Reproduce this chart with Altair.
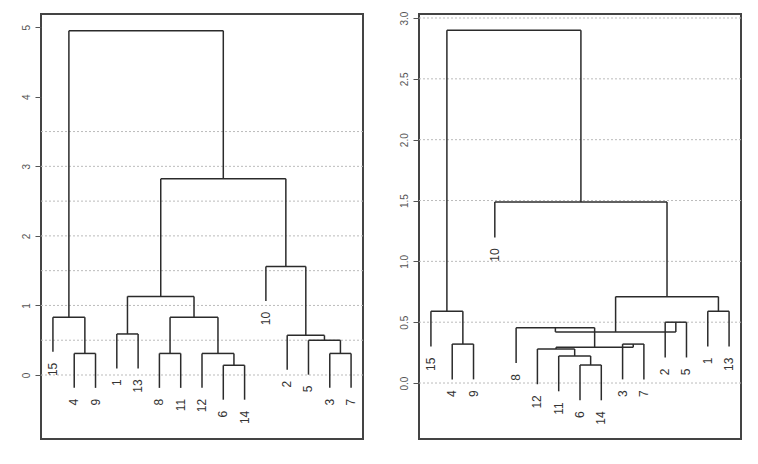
import altair as alt
import pandas as pd

# ---- data: hclust-style merge tables (negative = leaf, positive = earlier merge)
LEFT_ORDER = [15, 4, 9, 1, 13, 8, 11, 12, 6, 14, 10, 2, 5, 3, 7]
LEFT_A = [-4, -15, -1, -8, -6, -12, 4, 3, -3, -5, -2, -10, 8, 2]
LEFT_B = [-9, 1, -13, -11, -14, 5, 6, 7, -7, 9, 10, 11, 12, 13]
LEFT_H = [0.31, 0.83, 0.59, 0.31, 0.14, 0.31, 0.83, 1.13, 0.31, 0.50, 0.57, 1.56, 2.82, 4.95]
LEFT_TICKS = [0, 1, 2, 3, 4, 5]
LEFT_GRID = [0, 0.5, 1.0, 1.5, 2.0, 2.5, 3.0, 3.5]

RIGHT_ORDER = [15, 4, 9, 10, 8, 12, 11, 6, 14, 3, 7, 2, 5, 1, 13]
RIGHT_A = [-4, -15, -6, -11, -12, -3, 5, -8, -2, 8, -1, 10, -10, 2]
RIGHT_B = [-9, 1, -14, 3, 4, -7, 6, 7, -5, 9, -13, 11, 12, 13]
RIGHT_H = [0.32, 0.59, 0.148, 0.222, 0.28, 0.32, 0.295, 0.455, 0.50, 0.42, 0.59, 0.71, 1.487, 2.90]
RIGHT_TICKS = [0.0, 0.5, 1.0, 1.5, 2.0, 2.5, 3.0]
RIGHT_GRID = [0.0, 0.5, 1.0, 1.5, 2.0, 2.5, 3.0]


def dendro(order, A, B, H):
    pos = {leaf: i + 1 for i, leaf in enumerate(order)}
    hang = 0.1 * max(H)
    node_x, node_h = {}, {}
    segs, leaves = [], []
    for k, (a, b, h) in enumerate(zip(A, B, H), start=1):
        xs = []
        for c in (a, b):
            if c < 0:
                x = pos[-c]
                y = h - hang
                leaves.append({"label": str(-c), "x": x, "y": y})
            else:
                x = node_x[c]
                y = node_h[c]
            segs.append({"x": x, "x2": x, "y": h, "y2": y})
            xs.append(x)
        segs.append({"x": xs[0], "x2": xs[1], "y": h, "y2": h})
        node_x[k] = sum(xs) / 2
        node_h[k] = h
    return pd.DataFrame(segs), pd.DataFrame(leaves)


def panel(order, A, B, H, ticks, grid, ydom, fmt):
    segs, leaves = dendro(order, A, B, H)
    xsc = alt.Scale(domain=[0.44, 15.56], nice=False, zero=False)
    ysc = alt.Scale(domain=ydom, nice=False, zero=False)
    ax = alt.Axis(values=ticks, format=fmt, title=None, grid=False, domain=False,
                  labelAngle=270, labelAlign="center", labelBaseline="bottom",
                  labelPadding=4, tickSize=6, tickColor="#555", labelColor="#555",
                  labelFontSize=10, labelFont="Liberation Sans")
    g = alt.Chart(pd.DataFrame({"g": grid})).mark_rule(
        color="#bbbbbb", strokeDash=[2, 2], strokeWidth=1
    ).encode(y=alt.Y("g:Q", scale=ysc, axis=ax))
    r = alt.Chart(segs).mark_rule(color="#2b2b2b", strokeWidth=1.5).encode(
        x=alt.X("x:Q", scale=xsc, axis=None), x2="x2:Q",
        y=alt.Y("y:Q", scale=ysc, axis=ax), y2="y2:Q")
    t = alt.Chart(leaves).mark_text(
        angle=270, align="right", baseline="middle", dx=-11,
        fontSize=12, font="Liberation Sans", color="#333333"
    ).encode(x=alt.X("x:Q", scale=xsc, axis=None),
             y=alt.Y("y:Q", scale=ysc, axis=ax), text="label:N")
    return alt.layer(g, r, t).properties(width=322, height=425)


left = panel(LEFT_ORDER, LEFT_A, LEFT_B, LEFT_H, LEFT_TICKS, LEFT_GRID, [-0.92, 5.19], "d")
right = panel(RIGHT_ORDER, RIGHT_A, RIGHT_B, RIGHT_H, RIGHT_TICKS, RIGHT_GRID, [-0.46, 3.033], ".1f")

chart = alt.hconcat(left, right, spacing=56, bounds="flush").properties(
    padding={"left": 12, "top": 2, "right": 5, "bottom": 5}
).configure_view(stroke="#444444", strokeWidth=2)

chart.save("out.html", embed_options={"renderer": "svg", "actions": False})
